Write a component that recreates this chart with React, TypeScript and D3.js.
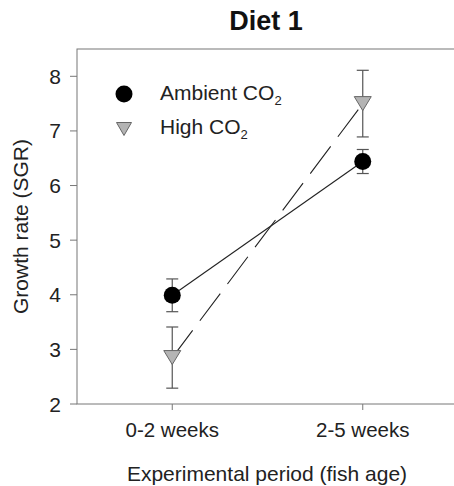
import React from "react";
import * as d3 from "d3";

// Growth rate (SGR) by experimental period, Diet 1
const periods = ["0-2 weeks", "2-5 weeks"];
const ambientMean = [3.99, 6.44];
const ambientSE = [0.3, 0.22];
const highMean = [2.85, 7.5];
const highSE = [0.56, 0.61];
const yTicks = [2, 3, 4, 5, 6, 7, 8];

const W = 454;
const H = 486;
const FONT = "'Liberation Sans', Arial, sans-serif";

export default function App() {
  const left = 77;
  const top = 49;
  const bottom = 404;
  const right = 458;

  const x = d3.scalePoint<string>().domain(periods).range([left, right]).padding(0.5);
  const y = d3.scaleLinear().domain([2, 8.5]).range([bottom, top]);

  const line = d3
    .line<number>()
    .x((_, i) => x(periods[i]) as number)
    .y((d) => y(d));

  const tri = (cx: number, cy: number, w: number, h: number) =>
    `M${cx - w / 2},${cy - h / 2}L${cx + w / 2},${cy - h / 2}L${cx},${cy + h / 2}Z`;

  const errorBar = (i: number, m: number, se: number, key: string) => {
    const cx = x(periods[i]) as number;
    const y1 = y(m + se);
    const y0 = y(m - se);
    return (
      <g key={key} stroke="#555" strokeWidth={1.2}>
        <line x1={cx} x2={cx} y1={y1} y2={y0} />
        <line x1={cx - 6} x2={cx + 6} y1={y1} y2={y1} />
        <line x1={cx - 6} x2={cx + 6} y1={y0} y2={y0} />
      </g>
    );
  };

  return (
    <div style={{ position: "fixed", left: 0, top: 0 }}>
      <svg width={W} height={H} style={{ display: "block", background: "#fff" }} fontFamily={FONT}>
        <text x={266} y={30} textAnchor="middle" fontSize={27} fontWeight="bold" fill="#111">
          Diet 1
        </text>

        {/* plot frame */}
        <rect x={left} y={top} width={right - left} height={bottom - top} fill="none" stroke="#777" strokeWidth={1} />

        {/* y axis */}
        {yTicks.map((t) => (
          <g key={t}>
            <line x1={left - 7} x2={left} y1={y(t)} y2={y(t)} stroke="#777" />
            <text x={left - 16} y={y(t)} dy="0.36em" textAnchor="end" fontSize={21} fill="#222">
              {t}
            </text>
          </g>
        ))}
        <text
          transform={`translate(28,${(top + bottom) / 2}) rotate(-90)`}
          textAnchor="middle"
          fontSize={21}
          fill="#222"
        >
          Growth rate (SGR)
        </text>

        {/* x axis */}
        {periods.map((p) => (
          <g key={p}>
            <line x1={x(p)} x2={x(p)} y1={bottom} y2={bottom + 6} stroke="#777" />
            <text x={x(p)} y={437} textAnchor="middle" fontSize={20.5} fill="#222">
              {p}
            </text>
          </g>
        ))}
        <text x={267} y={481} textAnchor="middle" fontSize={21} fill="#222">
          Experimental period (fish age)
        </text>

        {/* connecting lines */}
        <path d={line(ambientMean) ?? ""} fill="none" stroke="#222" strokeWidth={1.1} />
        <path d={line(highMean) ?? ""} fill="none" stroke="#222" strokeWidth={1.1} strokeDasharray="34,12" />

        {/* error bars */}
        {ambientMean.map((m, i) => errorBar(i, m, ambientSE[i], `a${i}`))}
        {highMean.map((m, i) => errorBar(i, m, highSE[i], `h${i}`))}

        {/* markers */}
        {ambientMean.map((m, i) => (
          <circle key={`ac${i}`} cx={x(periods[i])} cy={y(m)} r={8.5} fill="#000" />
        ))}
        {highMean.map((m, i) => (
          <path
            key={`ht${i}`}
            d={tri(x(periods[i]) as number, y(m), 17, 14)}
            fill="#b4b4b4"
            stroke="#666"
            strokeWidth={1}
          />
        ))}

        {/* legend */}
        <circle cx={124} cy={94} r={8.5} fill="#000" />
        <text x={160} y={100} fontSize={21} fill="#222">
          Ambient CO<tspan fontSize={13} dy={5}>2</tspan>
        </text>
        <path d={tri(124, 129, 15, 13)} fill="#b4b4b4" stroke="#666" strokeWidth={1} />
        <text x={160} y={134} fontSize={21} fill="#222">
          High CO<tspan fontSize={13} dy={5}>2</tspan>
        </text>
      </svg>
    </div>
  );
}
